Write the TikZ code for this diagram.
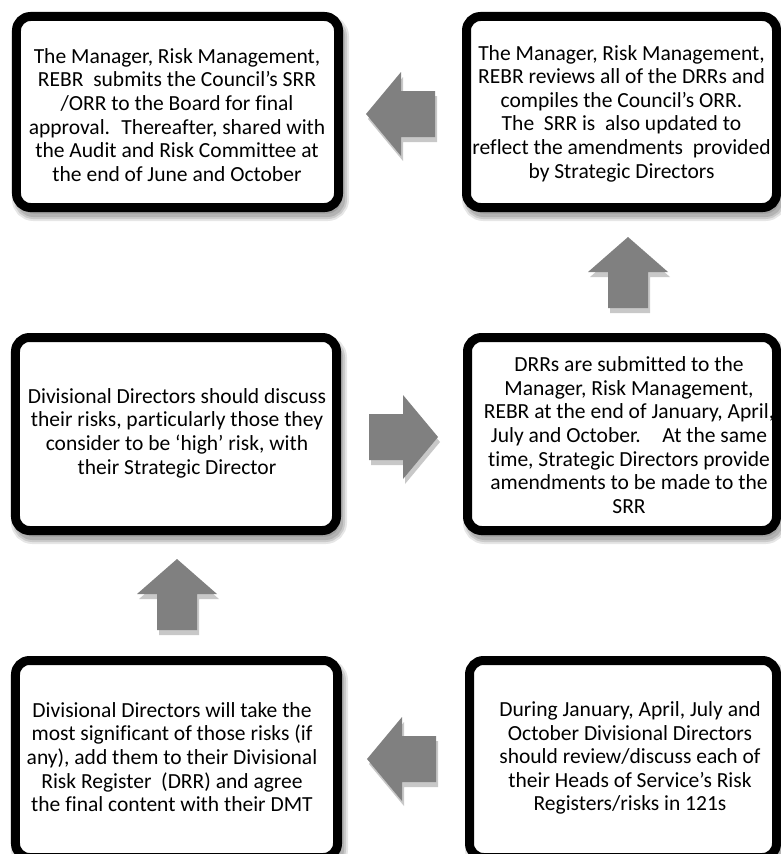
\documentclass[tikz,border=0pt]{standalone}
\usepackage{fontspec}
\setmainfont[Ligatures={NoCommon}]{Carlito}
\usetikzlibrary{shadows}
\definecolor{arrowgray}{HTML}{808080}
\definecolor{shadegray}{HTML}{9A9A9A}
\begin{document}
\begin{tikzpicture}[x=1bp,y=-1bp,
  box/.style={draw=black, line width=9bp, rounded corners=14bp, fill=white,
    inner sep=0pt, minimum width=#1},
  box/.default=322bp,
  softshadow/.style={
    general shadow={fill=shadegray, draw=shadegray, line width=15bp, opacity=0.25, shadow xshift=3bp, shadow yshift=-6bp},
    general shadow={fill=shadegray, draw=shadegray, line width=11bp, opacity=0.35, shadow xshift=3bp, shadow yshift=-6bp},
    general shadow={fill=shadegray, draw=shadegray, line width=7bp, opacity=0.5, shadow xshift=3bp, shadow yshift=-6bp}},
  txt/.style={align=center, inner sep=0pt, font=\fontsize{21.6}{23.7}\selectfont},
  arrfill/.style={fill=arrowgray},
  arrshadow/.style={fill=shadegray, opacity=0.55},
  pics/leftarr/.style={code={
    \fill[arrshadow] (2,5) -- ++(35,-42) -- ++(0,19) -- ++(34,0) -- ++(0,46) -- ++(-34,0) -- ++(0,19) -- cycle;
    \fill[arrfill] (0,0) -- ++(35,-42) -- ++(0,19) -- ++(34,0) -- ++(0,46) -- ++(-34,0) -- ++(0,19) -- cycle;}},
  pics/rightarr/.style={code={
    \fill[arrshadow] (2,5) -- ++(-35,-42) -- ++(0,19) -- ++(-34,0) -- ++(0,46) -- ++(34,0) -- ++(0,19) -- cycle;
    \fill[arrfill] (0,0) -- ++(-35,-42) -- ++(0,19) -- ++(-34,0) -- ++(0,46) -- ++(34,0) -- ++(0,19) -- cycle;}},
  pics/uparr/.style={code={
    \fill[arrshadow] (2,5) -- ++(40,35) -- ++(-20,0) -- ++(0,36) -- ++(-40,0) -- ++(0,-36) -- ++(-20,0) -- cycle;
    \fill[arrfill] (0,0) -- ++(40,35) -- ++(-20,0) -- ++(0,36) -- ++(-40,0) -- ++(0,-36) -- ++(-20,0) -- cycle;}}
]
\useasboundingbox (0,0) rectangle (781,854);

% boxes
\node[box=322bp, minimum height=191bp, softshadow] (b1) at (177.5,112) {};
\node[box=310bp, minimum height=191bp, softshadow] (b2) at (621.5,112) {};
\node[box=321bp, minimum height=193bp, softshadow] (b3) at (176,434) {};
\node[box=309bp, minimum height=193bp, softshadow] (b4) at (622,434) {};
\node[box=322bp, minimum height=197bp, softshadow] (b5) at (176.5,759) {};
\node[box=307bp, minimum height=197bp, softshadow] (b6) at (623,759) {};

% texts
\node[txt] (t1) at (177,115) {The Manager, Risk Management,\\REBR~ submits the Council’s SRR\\/ORR to the Board for final\\approval.~ Thereafter, shared with\\the Audit and Risk Committee at\\the end of June and October};
\node[txt] (t2) at (621.5,113.5) {The Manager, Risk Management,\\REBR reviews all of the DRRs and\\compiles the Council’s ORR.\\The~ SRR is~ also updated to\\reflect the amendments~ provided\\by Strategic Directors};
\node[txt] (t3) at (177,433) {Divisional Directors should discuss\\their risks, particularly those they\\consider to be ‘high’ risk, with\\their Strategic Director};
\node[txt] (t4) at (629,435) {DRRs are submitted to the\\Manager, Risk Management,\\REBR at the end of January, April,\\July and October.\hspace{1em}At the same\\time, Strategic Directors provide\\amendments to be made to the\\SRR};
\node[txt] (t5) at (172,757) {Divisional Directors will take the\\most significant of those risks (if\\any), add them to their Divisional\\Risk Register~ (DRR) and agree\\the final content with their DMT};
\node[txt] (t6) at (630,758) {During January, April, July and\\October Divisional Directors\\should review/discuss each of\\their Heads of Service’s Risk\\Registers/risks in 121s};

% block arrows
\coordinate (a1) at (366,114);
\coordinate (a2) at (628,237);
\coordinate (a3) at (438,437);
\coordinate (a4) at (177,559);
\coordinate (a5) at (367,759);
\pic at (a1) {leftarr};
\pic at (a2) {uparr};
\pic at (a3) {rightarr};
\pic at (a4) {uparr};
\pic at (a5) {leftarr};
\end{tikzpicture}
\end{document}
